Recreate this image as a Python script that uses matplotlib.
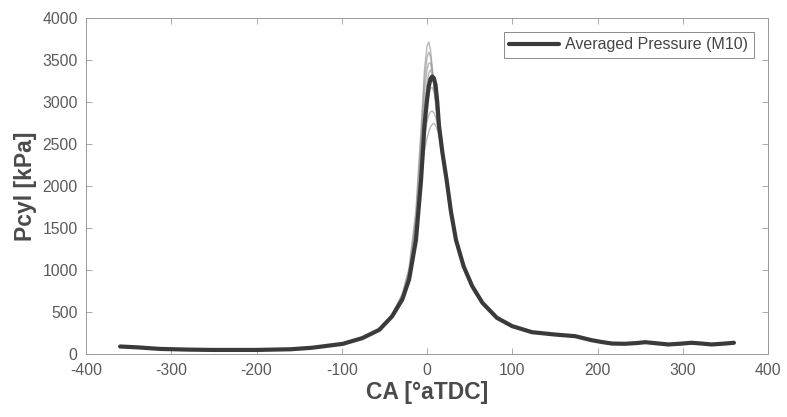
import numpy as np
import matplotlib
matplotlib.use("Agg")
import matplotlib.pyplot as plt

# averaged cylinder pressure (M10)
ca = [-360, -340, -313, -280, -251, -201, -160, -135, -99, -76, -56, -41, -29, -21,
      -13, -7, -3, 0, 2, 4, 6, 8, 10, 12, 14, 18, 23, 28, 34, 43, 53, 65, 82, 100,
      123, 150, 174, 193, 205, 217, 232, 245, 256, 270, 283, 297, 310, 322, 334, 347, 360]
p_avg = [95, 85, 66, 58, 54, 54, 62, 80, 126, 194, 293, 453, 653, 892,
         1358, 2070, 2720, 3020, 3180, 3270, 3300, 3280, 3200, 3000, 2720, 2400, 2070, 1700, 1358, 1045, 811, 613, 435, 336,
         265, 237, 217, 170, 148, 130, 127, 135, 146, 132, 119, 128, 139, 130, 119, 128, 139]

# single cycles around TDC (elsewhere they lie under the average)
ca_cyc = [-41, -29, -21, -13, -7, -3, 0, 2, 4, 6, 8, 10, 12, 14, 18, 23, 28, 34]
cyc1 = [480, 720, 1030, 1720, 2680, 3380, 3660, 3710, 3620, 3420, 3200, 2980, 2780, 2600, 2330, 2030, 1680, 1350]
cyc2 = [475, 705, 1000, 1650, 2580, 3260, 3520, 3590, 3540, 3390, 3200, 3000, 2800, 2620, 2350, 2040, 1690, 1355]
cyc3 = [470, 695, 980, 1600, 2480, 3120, 3380, 3460, 3460, 3360, 3210, 3020, 2830, 2650, 2370, 2050, 1695, 1357]
cyc4 = [465, 685, 960, 1540, 2380, 2980, 3220, 3340, 3380, 3330, 3220, 3060, 2880, 2680, 2390, 2060, 1700, 1358]
cyc5 = [460, 675, 940, 1480, 2250, 2800, 3000, 3110, 3160, 3170, 3120, 3020, 2870, 2690, 2400, 2080, 1705, 1360]
cyc6 = [455, 665, 920, 1420, 2120, 2580, 2760, 2840, 2880, 2890, 2870, 2820, 2740, 2640, 2400, 2090, 1710, 1360]
cyc7 = [450, 655, 900, 1380, 2020, 2420, 2570, 2640, 2700, 2730, 2745, 2720, 2670, 2600, 2390, 2090, 1710, 1360]
cycles = [cyc1, cyc2, cyc3, cyc4, cyc5, cyc6, cyc7]

plt.rcParams['font.family'] = ['Liberation Sans', 'DejaVu Sans']
plt.rcParams['axes.unicode_minus'] = False

fig = plt.figure(figsize=(7.87, 4.17), dpi=100)
ax = fig.add_axes([0.1093, 0.1499, 0.8666, 0.8081])

for c in cycles:
    ax.plot(ca_cyc, c, color='#9a9a9a', lw=1.0, alpha=0.7)
ax.plot(ca, p_avg, color='#3a3a3a', lw=3, label='Averaged Pressure (M10)', solid_capstyle='round')

ax.set_xlim(-400, 400)
ax.set_ylim(0, 4000)
ax.set_xticks(np.arange(-400, 401, 100))
ax.set_yticks(np.arange(0, 4001, 500))
ax.tick_params(direction='in', top=True, right=True, length=4, width=0.6,
               colors='#9a9a9a', labelcolor='#5a5a5a', labelsize=11.3, pad=6)
for s in ax.spines.values():
    s.set_color('#9a9a9a')
    s.set_linewidth(0.7)

ax.set_xlabel('CA [°aTDC]', fontsize=16.5, fontweight='bold', color='#4a4a4a', labelpad=2)
ax.set_ylabel('Pcyl [kPa]', fontsize=16.5, fontweight='bold', color='#4a4a4a', labelpad=4)

leg = ax.legend(loc='upper right', fontsize=11.5, handlelength=3.1, fancybox=False,
                framealpha=1, edgecolor='#8a8a8a', borderpad=0.35, labelcolor='#444444',
                handletextpad=0.4, borderaxespad=0.9)
leg.get_frame().set_linewidth(0.7)

fig.savefig('out.png', dpi=100)
